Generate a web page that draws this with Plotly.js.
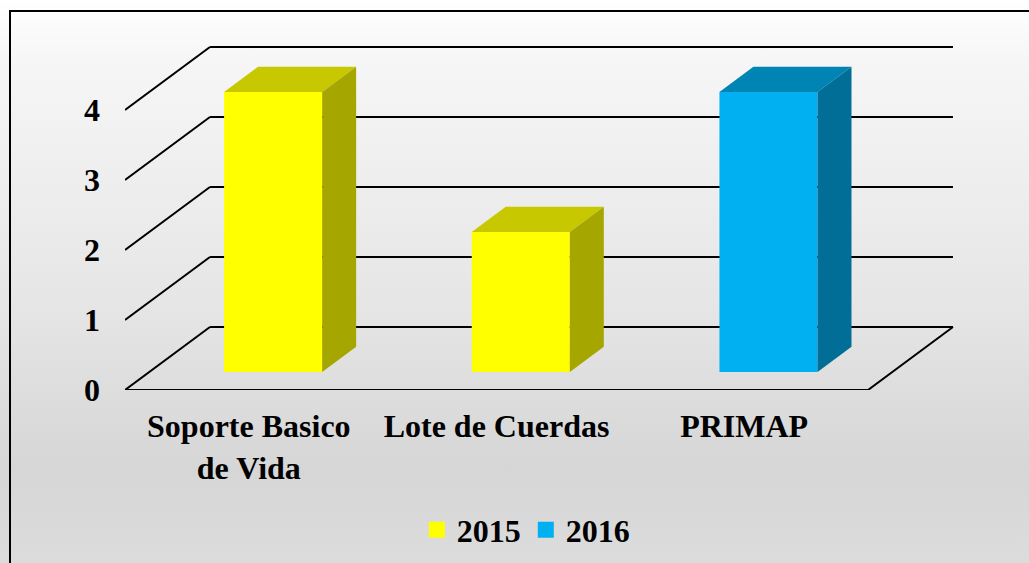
<!DOCTYPE html>
<html>
<head>
<meta charset="utf-8">
<script src="https://cdn.plot.ly/plotly-3.0.1.min.js"></script>
<style>
  html, body { margin: 0; padding: 0; width: 1029px; height: 563px; overflow: hidden; }
  #bg { position: absolute; left: 0; top: 0; width: 1029px; height: 563px;
        background: linear-gradient(to bottom, #ffffff 0px, #f6f6f6 60px, #e6e6e6 300px, #d6d6d6 470px, #dcdcdc 563px); }
  #frame { position: absolute; left: 9px; top: 10px; width: 1100px; height: 700px;
           border: 2px solid #000; box-sizing: border-box; }
  #chart { position: absolute; left: 0; top: 0; width: 1029px; height: 563px; }
</style>
</head>
<body>
<div id="bg"></div>
<div id="frame"></div>
<div id="chart"></div>
<script>
// ---- data ----
const categories = ["Soporte Basico<br>de Vida", "Lote de Cuerdas", "PRIMAP"];
const series2015 = [4, 2, 0];
const series2016 = [0, 0, 4];
const seriesNames = ["2015", "2016"];
const yTicks = [0, 1, 2, 3, 4];

// ---- styles / geometry (axis units) ----
const colors = {
  "2015": {front: "#FFFF00", top: "#C8C800", side: "#A6A600"},
  "2016": {front: "#00B0F0", top: "#0084B4", side: "#006E96"}
};
const floorDX = 0.343, floorDY = 0.9;     // depth of floor in x / y units
const barFrontFrac = 0.286, barDepthFrac = 0.4;
const barW = 0.396;
const bdx = barDepthFrac * floorDX, bdy = barDepthFrac * floorDY;
const xr = [-0.5, 2.8714], yr = [0, 5];
const shiftX = barFrontFrac * floorDX, shiftY = barFrontFrac * floorDY;
const font = "Liberation Serif, Times New Roman, serif";
const lineStyle = {color: "#000", width: 2};

const idx = categories.map((c, i) => i);
const n = categories.length;
const traces = [];

// back wall gridlines and left wall lines
yTicks.forEach(k => {
  traces.push({type: "scatter", mode: "lines", x: [-0.5 + floorDX, n - 0.5 + floorDX], y: [k + floorDY, k + floorDY],
    line: lineStyle, showlegend: false, hoverinfo: "skip", cliponaxis: false, xaxis: "x", yaxis: "y"});
  traces.push({type: "scatter", mode: "lines", x: [-0.5, -0.5 + floorDX], y: [k, k + floorDY],
    line: lineStyle, showlegend: false, hoverinfo: "skip", cliponaxis: false, xaxis: "x", yaxis: "y"});
});
// floor front and right edge
traces.push({type: "scatter", mode: "lines", x: [-0.5, n - 0.5, n - 0.5 + floorDX], y: [0, 0, floorDY],
  line: lineStyle, showlegend: false, hoverinfo: "skip", cliponaxis: false, xaxis: "x", yaxis: "y"});

// bars
const allSeries = {"2015": series2015, "2016": series2016};
seriesNames.forEach(name => {
  const vals = allSeries[name];
  const c = colors[name];
  traces.push({type: "bar", x: idx, y: vals, width: barW, marker: {color: c.front, line: {width: 0}},
    showlegend: false, hoverinfo: "skip", xaxis: "x2", yaxis: "y2"});
  vals.forEach((v, i) => {
    if (!v) return;
    const l = i - barW / 2, r = i + barW / 2;
    traces.push({type: "scatter", mode: "lines", fill: "toself", fillcolor: c.top, line: {width: 0, color: c.top},
      x: [l, r, r + bdx, l + bdx, l], y: [v, v, v + bdy, v + bdy, v],
      showlegend: false, hoverinfo: "skip", cliponaxis: false, xaxis: "x2", yaxis: "y2"});
    traces.push({type: "scatter", mode: "lines", fill: "toself", fillcolor: c.side, line: {width: 0, color: c.side},
      x: [r, r + bdx, r + bdx, r, r], y: [0, bdy, v + bdy, v, 0],
      showlegend: false, hoverinfo: "skip", cliponaxis: false, xaxis: "x2", yaxis: "y2"});
  });
});
// legend entries
seriesNames.forEach(name => {
  traces.push({type: "scatter", mode: "markers", x: [null], y: [null], name: name,
    marker: {symbol: "square", size: 16, color: colors[name].front}, xaxis: "x2", yaxis: "y2"});
});

const layout = {
  width: 1029, height: 563,
  margin: {l: 125, r: 69, t: 40, b: 173, autoexpand: false},
  paper_bgcolor: "rgba(0,0,0,0)", plot_bgcolor: "rgba(0,0,0,0)",
  font: {family: font, color: "#000", size: 32, weight: "bold"},
  showlegend: true,
  legend: {orientation: "h", x: 0.48, xanchor: "center", y: -0.4, yanchor: "middle",
    font: {family: font, size: 32, weight: "bold"}, itemsizing: "trace", bgcolor: "rgba(0,0,0,0)"},
  xaxis: {range: xr, tickvals: idx, ticktext: categories, showgrid: false, zeroline: false, showline: false,
    automargin: false, ticklabelstandoff: 14, tickfont: {family: font, size: 32, weight: "bold"}, fixedrange: true},
  yaxis: {range: yr, tickvals: yTicks, ticktext: yTicks.map(String), showgrid: false, zeroline: false, showline: false,
    automargin: false, ticklabelstandoff: 24, tickfont: {family: font, size: 32, weight: "bold"}, fixedrange: true},
  xaxis2: {overlaying: "x", range: [xr[0] - shiftX, xr[1] - shiftX], visible: false, fixedrange: true},
  yaxis2: {overlaying: "y", range: [yr[0] - shiftY, yr[1] - shiftY], visible: false, fixedrange: true},
  barmode: "overlay"
};

Plotly.newPlot("chart", traces, layout, {displayModeBar: false, staticPlot: true});
</script>
</body>
</html>
